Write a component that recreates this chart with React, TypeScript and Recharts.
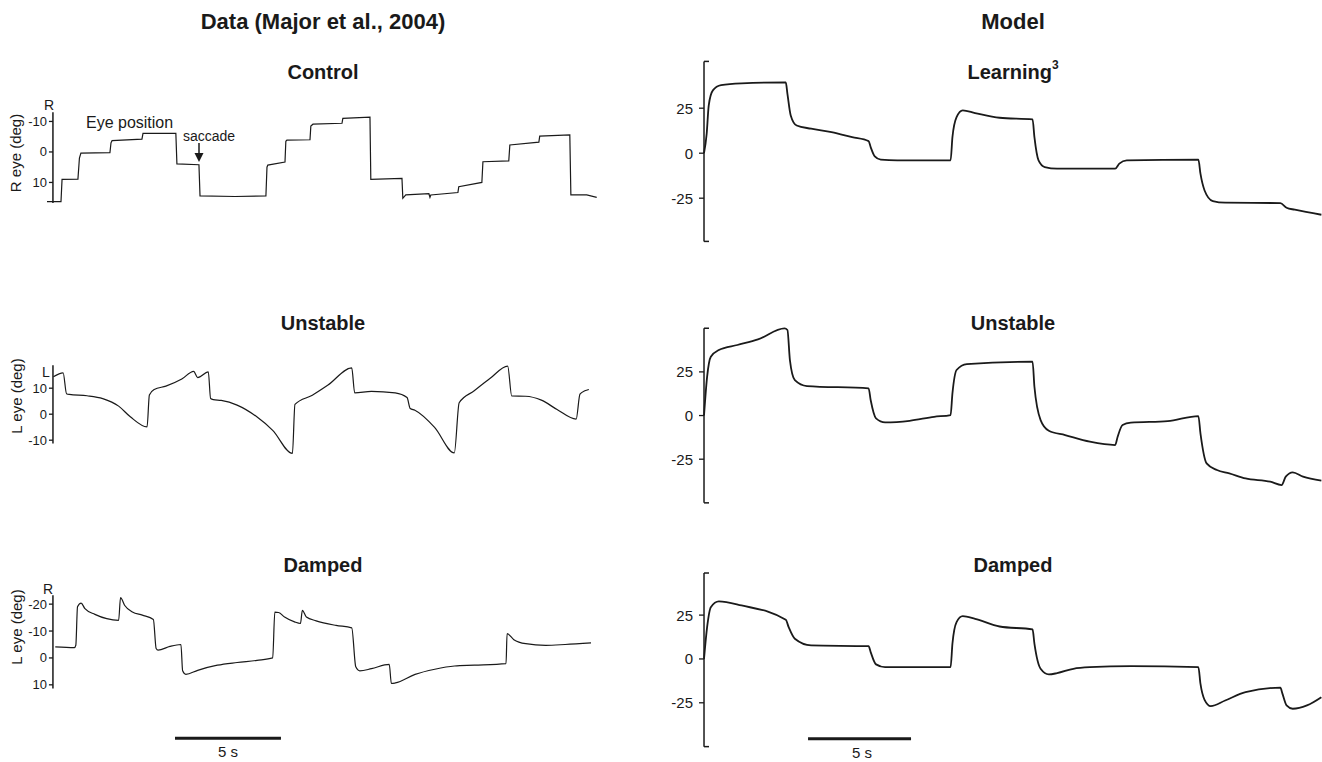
import React from 'react';
import { LineChart, Line, XAxis, YAxis, ReferenceLine } from 'recharts';

const FONT = '"Liberation Sans", Arial, Helvetica, sans-serif';
const INK = '#1a1a1a';

// ---------- Recorded eye position (Major et al., 2004): time in s, position in deg ----------
const controlTime = [0, 0.66, 0.71, 1.46, 1.53, 1.6, 2.97, 3.02, 3.07, 4.48, 4.53, 6.08, 6.13, 7.17, 7.22, 8.87, 10.33, 10.38, 10.42, 11.23, 11.27, 11.32, 12.41, 12.45, 12.55, 13.92, 13.96, 15.24, 15.28, 16.75, 16.79, 16.93, 18.02, 18.07, 18.11, 19.39, 19.43, 20.52, 20.57, 21.79, 21.84, 23.21, 23.25, 24.67, 24.72, 25.47, 25.94];
const controlPos = [16.3, 16.3, 9.0, 8.9, 2.0, 0.4, 0.2, -3.0, -3.7, -4.2, -6.1, -6.1, 3.9, 4.2, 14.4, 14.6, 14.4, 5.0, 4.3, 3.3, -3.5, -3.9, -4.0, -8.5, -9.1, -9.4, -11.0, -11.4, 9.0, 8.7, 15.2, 14.1, 13.7, 14.9, 14.1, 13.3, 11.4, 10.0, 3.2, 2.9, -2.3, -3.2, -5.2, -5.6, 14.1, 14.1, 14.9];

const unstableTime = [0.3, 0.76, 0.92, 1.05, 1.89, 2.63, 3.38, 3.93, 4.72, 4.83, 5.06, 5.61, 6.36, 6.92, 7.11, 7.61, 7.72, 7.85, 8.22, 8.97, 9.9, 10.65, 11.58, 11.7, 12.52, 13.26, 14.38, 14.52, 15.31, 16.43, 16.99, 17.14, 17.36, 18.29, 19.22, 19.45, 20.16, 20.9, 21.74, 21.93, 22.58, 23.33, 24.07, 24.97, 25.15, 25.38, 25.57];
const unstablePos = [14.4, 15.9, 7.9, 7.6, 7.1, 6.0, 3.1, -1.0, -4.9, 7.4, 9.5, 10.8, 13.5, 16.5, 14.1, 16.3, 6.0, 5.6, 5.3, 3.5, -1.0, -6.2, -15.1, 3.8, 7.3, 11.2, 17.8, 8.2, 8.8, 8.2, 6.4, 2.2, 1.5, -5.1, -14.9, 4.4, 9.0, 13.7, 18.5, 7.0, 6.9, 5.4, 1.8, -1.9, 7.7, 9.0, 9.5];

const dampedTime = [0.39, 1.29, 1.36, 1.44, 1.61, 1.79, 2.26, 2.82, 3.38, 3.47, 3.66, 4.03, 4.5, 5.02, 5.15, 5.24, 5.8, 6.32, 6.4, 6.55, 7.11, 8.04, 8.97, 9.91, 10.65, 10.75, 10.93, 11.21, 11.68, 11.96, 12.05, 12.24, 12.7, 13.64, 14.38, 14.57, 14.76, 15.31, 16.15, 16.25, 16.44, 17.37, 18.3, 19.23, 20.17, 21.66, 21.71, 22.03, 22.59, 23.53, 24.45, 25.67];
const dampedPos = [-4.1, -3.8, -4.7, -19.0, -20.4, -18.3, -16.2, -14.6, -14.0, -22.4, -19.6, -17.1, -15.9, -14.3, -3.5, -2.9, -4.3, -5.0, 4.8, 6.1, 4.6, 2.7, 1.7, 0.9, 0.0, -17.0, -16.9, -15.2, -13.4, -12.8, -17.7, -15.2, -13.8, -12.1, -11.2, 3.3, 4.8, 4.0, 2.4, 9.5, 9.3, 6.1, 4.2, 3.0, 2.7, 2.1, -9.0, -6.8, -5.3, -4.7, -5.0, -5.6];

// ---------- Model simulations: time in s, position in deg ----------
const learningTime = [0, 0.13, 0.23, 0.43, 0.83, 1.82, 3.97, 4.05, 4.21, 4.5, 5.2, 6.19, 7.19, 7.99, 8.09, 8.29, 8.58, 9.38, 11.97, 12.06, 12.26, 12.56, 13.16, 14.35, 15.95, 16.04, 16.24, 16.54, 17.14, 19.96, 20.16, 20.52, 24.0, 24.1, 24.3, 24.7, 25.3, 27.98, 28.28, 28.68, 29.97];
const learningPos = [0, 10.8, 26.6, 34.9, 37.8, 38.8, 39.3, 33.0, 21.0, 15.4, 13.6, 11.7, 8.9, 6.7, 3.4, -1.8, -3.6, -4.0, -4.0, 8.9, 20.0, 23.8, 22.3, 19.7, 18.8, 8.9, -4.0, -7.7, -8.6, -8.6, -5.8, -4.0, -3.6, -11.4, -20.7, -26.6, -27.5, -27.7, -30.3, -31.4, -34.2];

const modelUnstableTime = [0, 0.15, 0.33, 0.72, 1.62, 2.62, 3.91, 4.05, 4.17, 4.41, 5.0, 7.99, 8.09, 8.35, 8.79, 9.98, 11.17, 11.97, 12.06, 12.26, 12.76, 15.95, 16.04, 16.34, 16.74, 17.53, 18.73, 19.96, 20.08, 20.32, 20.72, 22.51, 24.0, 24.1, 24.4, 24.9, 25.5, 26.29, 27.49, 28.04, 28.24, 28.58, 29.08, 29.97];
const modelUnstablePos = [0, 22.2, 33.7, 37.5, 40.4, 43.6, 49.9, 49.0, 31.8, 20.3, 16.9, 15.6, 8.9, -1.6, -3.9, -3.0, -0.7, 0.3, 12.7, 26.1, 29.5, 30.8, 16.5, -2.6, -8.7, -11.2, -15.0, -16.9, -12.1, -5.4, -4.1, -3.2, -0.3, -10.2, -27.4, -31.2, -33.1, -36.0, -37.9, -39.8, -35.0, -32.5, -35.0, -37.3];

const modelDampedTime = [0, 0.15, 0.33, 0.72, 1.82, 3.97, 4.11, 4.41, 5.2, 7.99, 8.09, 8.35, 8.79, 11.97, 12.06, 12.26, 12.56, 13.16, 14.35, 15.95, 16.04, 16.34, 16.74, 17.14, 17.93, 18.73, 20.72, 24.0, 24.1, 24.3, 24.6, 25.3, 26.29, 27.98, 28.08, 28.28, 28.58, 29.27, 29.97];
const modelDampedPos = [0, 18.1, 29.5, 32.8, 30.5, 22.3, 18.1, 11.5, 7.7, 7.3, 3.9, -3.1, -4.7, -4.7, 8.7, 21.0, 24.4, 22.9, 18.5, 16.8, 8.7, -5.6, -8.8, -8.1, -5.6, -4.7, -4.1, -4.7, -14.1, -23.3, -26.9, -23.7, -18.9, -16.4, -19.8, -26.5, -28.4, -26.5, -21.8];

// Axis ticks
const dataTicksA = [-10, 0, 10];
const dataTicksB = [-10, 0, 10];
const dataTicksC = [-20, -10, 0, 10];
const modelTickLabels = [-25, 0, 25];

// Time-scale bar length (s)
const SCALE_SECONDS = 5;

type Row = { t: number; v: number };
const zip = (t: number[], v: number[]): Row[] => t.map((ti, i) => ({ t: ti, v: v[i] }));

type AxisStyle = 'data' | 'model';

interface PanelProps {
  rows: Row[];
  left: number;
  top: number;
  axisWidth: number;
  plotWidth: number;
  plotHeight: number;
  xDomain: [number, number];
  yDomain: [number, number];
  reversed?: boolean;
  axisAt: number;
  axisSpan: [number, number];
  ticks: number[];
  labelled: number[];
  kind: AxisStyle;
  lineWidth: number;
  curve: 'linear' | 'monotoneX';
  scaleBar?: { from: number; at: number };
}

function Panel(p: PanelProps) {
  const pxPerSec = p.plotWidth / (p.xDomain[1] - p.xDomain[0]);
  const axisOffset = (p.axisAt - p.xDomain[0]) * pxPerSec;

  const renderTick = (props: any) => {
    const { x, y, payload } = props;
    const ax = x + axisOffset;
    const v = payload.value as number;
    if (p.kind === 'model') {
      if (!p.labelled.includes(v)) {
        return <line x1={ax} x2={ax + 5} y1={y} y2={y} stroke={INK} strokeWidth={1.5} />;
      }
      return (
        <g>
          <line x1={ax - 5} x2={ax} y1={y} y2={y} stroke={INK} strokeWidth={1.3} />
          <text x={ax - 11} y={y} textAnchor="end" dominantBaseline="central" fontSize={15} fontFamily={FONT} fill={INK}>
            {v}
          </text>
        </g>
      );
    }
    return (
      <g>
        <line x1={ax - 4} x2={ax} y1={y} y2={y} stroke={INK} strokeWidth={1.3} />
        <text x={ax - 6} y={y} textAnchor="end" dominantBaseline="central" fontSize={13} fontFamily={FONT} fill={INK}>
          {v}
        </text>
      </g>
    );
  };

  return (
    <div style={{ position: 'absolute', left: p.left, top: p.top }}>
      <LineChart
        width={p.axisWidth + p.plotWidth}
        height={p.plotHeight}
        data={p.rows}
        margin={{ top: 0, right: 0, bottom: 0, left: 0 }}
      >
        <XAxis dataKey="t" type="number" domain={p.xDomain} hide />
        <YAxis
          type="number"
          domain={p.yDomain}
          reversed={p.reversed}
          width={p.axisWidth}
          ticks={p.ticks}
          interval={0}
          axisLine={false}
          tickLine={false}
          tickSize={0}
          tickMargin={0}
          tick={renderTick}
        />
        <ReferenceLine
          segment={[
            { x: p.axisAt, y: p.axisSpan[0] },
            { x: p.axisAt, y: p.axisSpan[1] },
          ]}
          stroke={INK}
          strokeWidth={1.5}
        />
        {p.scaleBar && (
          <ReferenceLine
            segment={[
              { x: p.scaleBar.from, y: p.scaleBar.at },
              { x: p.scaleBar.from + SCALE_SECONDS, y: p.scaleBar.at },
            ]}
            stroke={INK}
            strokeWidth={3}
          />
        )}
        <Line
          dataKey="v"
          type={p.curve}
          dot={false}
          activeDot={false}
          stroke={INK}
          strokeWidth={p.lineWidth}
          isAnimationActive={false}
        />
      </LineChart>
    </div>
  );
}

const LEFT = { left: 0, axisWidth: 47, plotWidth: 551, xDomain: [0, 26] as [number, number], axisAt: 0.28 };
const RIGHT = { left: 650, axisWidth: 54, plotWidth: 618, xDomain: [0, 30] as [number, number], axisAt: 0 };

const title = (x: number, y: number, s: string, size: number) => (
  <text x={x} y={y} textAnchor="middle" dominantBaseline="central" fontSize={size} fontWeight="bold" fontFamily={FONT} fill={INK}>
    {s}
  </text>
);

const plain = (x: number, y: number, s: string, size: number, anchor: 'start' | 'middle' | 'end' = 'middle') => (
  <text x={x} y={y} textAnchor={anchor} dominantBaseline="central" fontSize={size} fontFamily={FONT} fill={INK}>
    {s}
  </text>
);

const vertical = (x: number, y: number, s: string) => (
  <text
    x={x}
    y={y}
    transform={`rotate(-90 ${x} ${y})`}
    textAnchor="middle"
    dominantBaseline="central"
    fontSize={15}
    fontFamily={FONT}
    fill={INK}
  >
    {s}
  </text>
);

export default function App() {
  return (
    <div
      style={{
        position: 'absolute',
        left: 0,
        top: 0,
        width: 1322,
        height: 762,
        background: '#ffffff',
        overflow: 'hidden',
        fontFamily: FONT,
      }}
    >
      {/* Recorded data column */}
      <Panel
        {...LEFT}
        rows={zip(controlTime, controlPos)}
        top={94.05}
        plotHeight={122}
        yDomain={[-19, 21]}
        reversed
        axisSpan={[-13, 16.7]}
        ticks={dataTicksA}
        labelled={dataTicksA}
        kind="data"
        lineWidth={1.2}
        curve="linear"
      />
      <Panel
        {...LEFT}
        rows={zip(unstableTime, unstablePos)}
        top={356.8}
        plotHeight={109.2}
        yDomain={[-20, 22]}
        axisSpan={[-11.3, 18.8]}
        ticks={dataTicksB}
        labelled={dataTicksB}
        kind="data"
        lineWidth={1.2}
        curve="monotoneX"
      />
      <Panel
        {...LEFT}
        rows={zip(dampedTime, dampedPos)}
        top={587.8}
        plotHeight={156}
        yDomain={[-26, 32]}
        reversed
        axisSpan={[-23.3, 11.4]}
        ticks={dataTicksC}
        labelled={dataTicksC}
        kind="data"
        lineWidth={1.2}
        curve="monotoneX"
        scaleBar={{ from: 6.04, at: 29.85 }}
      />

      {/* Model column */}
      <Panel
        {...RIGHT}
        rows={zip(learningTime, learningPos)}
        top={55.6}
        plotHeight={190.8}
        yDomain={[-52, 54]}
        axisSpan={[-49, 51]}
        ticks={[-49, ...modelTickLabels, 51]}
        labelled={modelTickLabels}
        kind="model"
        lineWidth={1.8}
        curve="monotoneX"
      />
      <Panel
        {...RIGHT}
        rows={zip(modelUnstableTime, modelUnstablePos)}
        top={323}
        plotHeight={185.1}
        yDomain={[-53, 53]}
        axisSpan={[-50, 50]}
        ticks={[-50, ...modelTickLabels, 50]}
        labelled={modelTickLabels}
        kind="model"
        lineWidth={1.8}
        curve="monotoneX"
      />
      <Panel
        {...RIGHT}
        rows={zip(modelDampedTime, modelDampedPos)}
        top={565.5}
        plotHeight={185.9}
        yDomain={[-53, 53]}
        axisSpan={[-50, 49]}
        ticks={[-50, ...modelTickLabels, 49]}
        labelled={modelTickLabels}
        kind="model"
        lineWidth={1.8}
        curve="monotoneX"
        scaleBar={{ from: 5.05, at: -45.5 }}
      />

      {/* Titles, labels and annotations */}
      <svg
        width={1322}
        height={762}
        style={{ position: 'absolute', left: 0, top: 0, pointerEvents: 'none' }}
      >
        {title(323, 21, 'Data (Major et al., 2004)', 22)}
        {title(1013, 21, 'Model', 22)}

        {title(323, 72, 'Control', 20)}
        <text x={1013} y={72} textAnchor="middle" dominantBaseline="central" fontSize={20} fontWeight="bold" fontFamily={FONT} fill={INK}>
          Learning
          <tspan fontSize={12} dy={-7}>3</tspan>
        </text>
        {title(323, 323, 'Unstable', 20)}
        {title(1013, 323, 'Unstable', 20)}
        {title(323, 565, 'Damped', 20)}
        {title(1013, 565, 'Damped', 20)}

        {vertical(15, 153, 'R eye (deg)')}
        {vertical(16, 396, 'L eye (deg)')}
        {vertical(16, 627, 'L eye (deg)')}

        {plain(49, 105, 'R', 14)}
        {plain(46, 372, 'L', 14)}
        {plain(48, 589, 'R', 14)}

        {plain(86, 122, 'Eye position', 16, 'start')}
        {plain(183, 136, 'saccade', 14, 'start')}
        <line x1={199} y1={143} x2={199} y2={154} stroke={INK} strokeWidth={1.5} />
        <path d="M194.5,153 L203.5,153 L199,162 Z" fill={INK} />

        {plain(228, 751, '5 s', 15)}
        {plain(862, 752, '5 s', 15)}
      </svg>
    </div>
  );
}
